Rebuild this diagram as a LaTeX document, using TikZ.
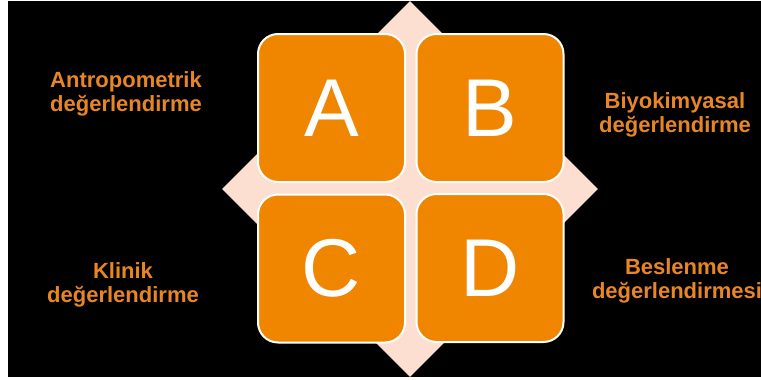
\documentclass[tikz,border=0pt]{standalone}
\usepackage{fontspec}
\setmainfont{Liberation Sans}
\usepackage{tikz}
\usetikzlibrary{
  positioning,
  shapes.geometric
}
\definecolor{boxorange}{RGB}{240,133,0}
\definecolor{labelorange}{RGB}{232,134,38}
\definecolor{diamondpink}{RGB}{252,223,208}

\begin{document}
\begin{tikzpicture}[
  x=1pt, y=-1pt,
  backdiamond/.style={
    diamond,
    fill=diamondpink,
    draw=none,
    minimum width=376pt,
    minimum height=376pt,
    inner sep=0pt,
  },
  letterbox/.style={
    rectangle,
    draw=white,
    fill=boxorange,
    line width=2pt,
    rounded corners=20pt,
    minimum width=147pt,
    minimum height=148pt,
    text=white,
    font=\fontsize{82}{82}\selectfont,
    inner sep=0pt,
  },
  sidelabel/.style={
    font=\fontsize{22}{24}\selectfont\bfseries,
    text=labelorange,
    align=center,
  },
]
\useasboundingbox (0,0) rectangle (761,380);

% ── Background ──
\fill[white] (0,0) rectangle (761,380);
\fill[black] (8,1) rectangle (761,377);

% ── Diamond behind the boxes ──
\node[backdiamond] (back) at (410,189) {};

% ── Boxes ──
\node[letterbox] (boxA) at (331.5,108) {A};
\node[letterbox] (boxB) at (490,108) {B};
\node[letterbox] (boxC) at (331.5,268.5) {C};
\node[letterbox] (boxD) at (490,268) {D};

% ── Labels ──
\node[sidelabel] (antro) at (126,94) {Antropometrik\\değerlendirme};
\node[sidelabel] (biyo) at (675,115) {Biyokimyasal\\değerlendirme};
\node[sidelabel] (klinik) at (123,285) {Klinik\\değerlendirme};
\node[sidelabel] (besl) at (677,281) {Beslenme\\değerlendirmesi};

\end{tikzpicture}
\end{document}
